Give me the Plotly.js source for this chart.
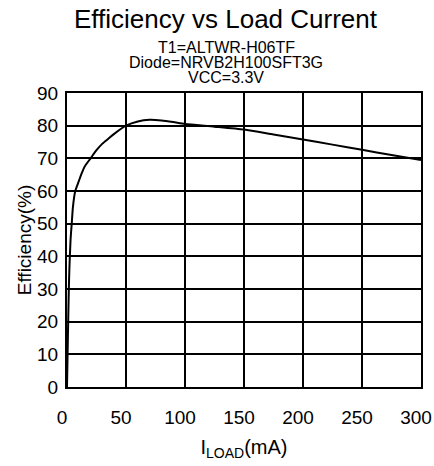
<!DOCTYPE html>
<html>
<head>
<meta charset="utf-8">
<script src="https://cdn.plot.ly/plotly-3.0.1.min.js"></script>
<style>html,body{margin:0;padding:0;background:#fff;}#chart{width:434px;height:466px;}</style>
</head>
<body>
<div id="chart"></div>
<script>
const loadCurrent = [0, 0.5, 1, 1.5, 2, 3, 4, 5, 7, 10, 12, 15, 20, 25, 30, 35, 40, 50, 60, 70, 80, 90, 100, 125, 150, 175, 200, 225, 250, 275, 300];
const efficiency  = [0, 10, 20, 29, 36, 45, 50, 55, 60, 63, 65, 67.5, 70, 72.5, 74.5, 76, 77.5, 80, 81.3, 81.8, 81.6, 81.1, 80.5, 79.7, 78.8, 77.3, 75.8, 74.2, 72.6, 71.0, 69.5];
const xTicks = [0, 50, 100, 150, 200, 250, 300];
const yTicks = [0, 10, 20, 30, 40, 50, 60, 70, 80, 90];
const titleText = "Efficiency vs Load Current";
const subtitleLines = ["T1=ALTWR-H06TF", "Diode=NRVB2H100SFT3G", "VCC=3.3V"];
const xTitle = "I<sub>LOAD</sub>(mA)";
const yTitle = "Efficiency(%)";

const font = "Liberation Sans, Arial, sans-serif";
const plotTop = 93, plotBottom = 387, plotLeft = 67, plotRight = 421;
const ph = plotBottom - plotTop, pw = plotRight - plotLeft;
const py = Y => (plotBottom - Y) / ph;
const px = X => (X - plotLeft) / pw;

const annotations = [
  {text: titleText, x: px(226), y: py(19), xref: 'paper', yref: 'paper', showarrow: false,
   xanchor: 'center', yanchor: 'middle', font: {family: font, size: 26, color: '#000'}}
];
const subY = [47, 62, 77.5];
subtitleLines.forEach((t, i) => annotations.push({
  text: t, x: px(226), y: py(subY[i]), xref: 'paper', yref: 'paper', showarrow: false,
  xanchor: 'center', yanchor: 'middle', font: {family: font, size: 16, color: '#000'}
}));

Plotly.newPlot('chart', [{
  x: loadCurrent, y: efficiency, type: 'scatter', mode: 'lines',
  line: {color: '#000', width: 2, shape: 'spline', smoothing: 0.6},
  hoverinfo: 'skip'
}], {
  width: 434, height: 466,
  margin: {l: plotLeft, r: 434 - plotRight, t: plotTop, b: 466 - plotBottom, pad: 0},
  paper_bgcolor: '#fff', plot_bgcolor: '#fff',
  showlegend: false,
  font: {family: font, color: '#000'},
  xaxis: {
    range: [0, 300], tickvals: xTicks, ticktext: xTicks.map(String),
    showgrid: true, gridcolor: '#000', gridwidth: 2,
    showline: true, linecolor: '#000', linewidth: 2, mirror: true,
    zeroline: false, ticks: 'outside', ticklen: 12, tickcolor: 'rgba(0,0,0,0)',
    ticklabelshift: -5, ticklabeloverflow: 'allow',
    tickfont: {family: font, size: 19, color: '#000'},
    title: {text: xTitle, font: {family: font, size: 20, color: '#000'}, standoff: 13},
    fixedrange: true
  },
  yaxis: {
    range: [0, 90], tickvals: yTicks, ticktext: yTicks.map(String),
    showgrid: true, gridcolor: '#000', gridwidth: 2,
    showline: true, linecolor: '#000', linewidth: 2, mirror: true,
    zeroline: false, ticks: 'outside', ticklen: 3, tickcolor: 'rgba(0,0,0,0)',
    ticklabeloverflow: 'allow',
    tickfont: {family: font, size: 19, color: '#000'},
    title: {text: yTitle, font: {family: font, size: 19, color: '#000'}, standoff: 0},
    fixedrange: true
  },
  annotations: annotations
}, {displayModeBar: false, staticPlot: true});
</script>
</body>
</html>
